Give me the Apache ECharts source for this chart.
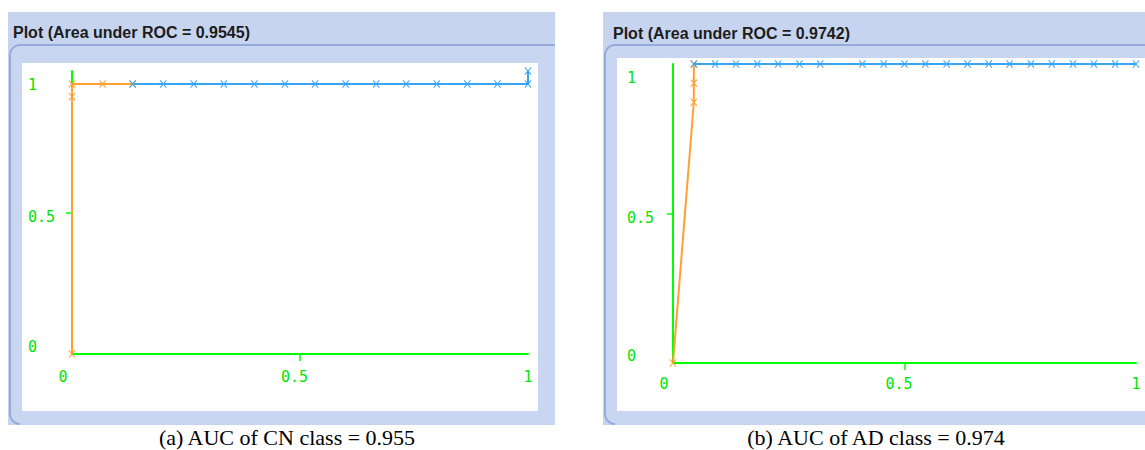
<!DOCTYPE html>
<html><head><meta charset="utf-8">
<script src="https://cdn.jsdelivr.net/npm/echarts@6.0.0/dist/echarts.min.js"></script>
<style>html,body{margin:0;padding:0;background:#fff}#c{width:1145px;height:450px}</style>
</head><body><div id="c"></div>
<script>
// ---- Data ----
const panelTitles = ['Plot (Area under ROC = 0.9545)', 'Plot (Area under ROC = 0.9742)'];
const captions = ['(a) AUC of CN class = 0.955', '(b) AUC of AD class = 0.974'];
const xTickLabels = [0, 0.5, 1];
const yTickLabels = [0, 0.5, 1];

// Panel (a) CN class
const cnOrangeFpr = [0, 0, 0, 0.067, 0.133];
const cnOrangeTpr = [0, 0.909, 0.954, 0.954, 0.954];
const cnBlueFpr = [0.133, 0.2, 0.267, 0.333, 0.4, 0.467, 0.533, 0.6, 0.667, 0.733, 0.8, 0.867, 0.933, 1, 1];
const cnBlueTpr = [0.954, 0.954, 0.954, 0.954, 0.954, 0.954, 0.954, 0.954, 0.954, 0.954, 0.954, 0.954, 0.954, 0.954, 1];

// Panel (b) AD class
const adOrangeFpr = [0, 0.045, 0.045, 0.045];
const adOrangeTpr = [0, 0.872, 0.936, 1];
const adBlueFpr = [0.045, 0.091, 0.136, 0.182, 0.227, 0.273, 0.318, 0.409, 0.455, 0.5, 0.545, 0.591, 0.636, 0.682, 0.727, 0.773, 0.818, 0.864, 0.909, 0.955, 1];
const adBlueTpr = [1, 1, 1, 1, 1, 1, 1, 1, 1, 1, 1, 1, 1, 1, 1, 1, 1, 1, 1, 1, 1];

// ---- Styling ----
const GREEN = '#00ff00';
const LABEL_GREEN = '#00e600';
const ORANGE = '#ffa030';
const BLUE = '#38a4f4';
const LAV = '#c6d4ef';
const MONO = '"DejaVu Sans Mono", "Liberation Mono", monospace';
const XMARK = 'path://M1,0 L5,4 L9,0 L10,1 L6,5 L10,9 L9,10 L5,6 L1,10 L0,9 L4,5 L0,1 Z';
const TITLE_FONT = '"Liberation Sans Narrow", "Liberation Sans", Arial, sans-serif';
const CAPTION_FONT = '"Liberation Serif", "Times New Roman", serif';

function zip(xs, ys) { return xs.map((x, i) => [x, ys[i]]); }

const lblBase = { fontFamily: MONO, fontSize: 15, color: LABEL_GREEN };

function xAxisCfg(grid, margin) {
  return {
    type: 'value', gridIndex: grid, min: 0, max: 1,
    axisLine: { show: true, onZero: false, lineStyle: { color: GREEN, width: 2 } },
    axisTick: { show: true, customValues: [0.5], length: 7, lineStyle: { color: GREEN, width: 1.5 } },
    splitLine: { show: false },
    axisLabel: {
      customValues: xTickLabels, margin: margin, hideOverlap: false,
      ...lblBase,
      formatter: v => v === 0 ? '{z|0}' : (v === 0.5 ? '{h|0.5}' : '{o|1}'),
      rich: {
        z: { ...lblBase, padding: [0, 18, 0, 0] },
        h: { ...lblBase, padding: [0, 11, 0, 0] },
        o: { ...lblBase }
      }
    }
  };
}
function yAxisCfg(grid, margin) {
  return {
    type: 'value', gridIndex: grid, min: 0, max: 1,
    axisLine: { show: true, onZero: false, lineStyle: { color: GREEN, width: 2 } },
    axisTick: { show: true, customValues: [0.5], length: 6, lineStyle: { color: GREEN, width: 1.5 } },
    splitLine: { show: false },
    axisLabel: {
      customValues: yTickLabels, margin: margin, align: 'left', hideOverlap: false,
      ...lblBase,
      formatter: v => v === 0 ? '{z|0}' : (v === 0.5 ? '{h|0.5}' : '{o|1}'),
      rich: {
        z: { ...lblBase, padding: [0, 0, 14, 0] },
        h: { ...lblBase, padding: [9, 0, 0, 0] },
        o: { ...lblBase, padding: [28, 0, 0, 0] }
      }
    }
  };
}
function lineSeries(color, data, xi) {
  return {
    type: 'line', xAxisIndex: xi, yAxisIndex: xi, data: data,
    symbol: XMARK, symbolSize: [7, 8], showAllSymbol: true,
    itemStyle: { color: color }, lineStyle: { color: color, width: 2 },
    animation: false, z: 3
  };
}

// rounded frame edge (top and left sides) as a polyline
function framePoints(fx, right, top, bottom, rad) {
  const pts = [[right, top]];
  for (let i = 0; i <= 6; i++) {
    const a = Math.PI / 2 * i / 6;
    pts.push([fx + rad - rad * Math.sin(a), top + rad - rad * Math.cos(a)]);
  }
  for (let i = 0; i <= 6; i++) {
    const a = Math.PI / 2 * i / 6;
    pts.push([fx + rad - rad * Math.cos(a), bottom - rad + rad * Math.sin(a)]);
  }
  return pts;
}

function panelGraphics(x, w, whiteTop) {
  const fx = x + 2;
  return [
    { type: 'rect', z: -100, shape: { x: x, y: 12, width: w, height: 413 }, style: { fill: LAV } },
    { type: 'rect', z: -99, shape: { x: fx, y: 45, width: w - 2, height: 379, r: [10, 0, 0, 10] },
      style: { fill: '#c9d6f1' } },
    { type: 'polyline', z: -98, shape: { points: framePoints(fx, x + w, 45, 424, 10) },
      style: { fill: null, stroke: '#94abdb', lineWidth: 2 } },
    { type: 'rect', z: -97, shape: { x: x + 14, y: whiteTop, width: w - 31, height: 411 - whiteTop }, style: { fill: '#ffffff' } }
  ];
}

const option = {
  backgroundColor: '#ffffff',
  animation: false,
  title: [
    { text: panelTitles[0], left: 8, top: 19, textStyle: { fontFamily: TITLE_FONT, fontWeight: 'bold', fontSize: 16, color: '#1c1c1c' } },
    { text: panelTitles[1], left: 608, top: 20, textStyle: { fontFamily: TITLE_FONT, fontWeight: 'bold', fontSize: 16, color: '#1c1c1c' } },
    { text: captions[0], left: 282, top: 421, textAlign: 'center', textStyle: { fontFamily: CAPTION_FONT, fontWeight: 'normal', fontSize: 22, color: '#000' } },
    { text: captions[1], left: 871, top: 421, textAlign: 'center', textStyle: { fontFamily: CAPTION_FONT, fontWeight: 'normal', fontSize: 22, color: '#000' } }
  ],
  graphic: [
    ...panelGraphics(8, 547, 63),
    ...panelGraphics(603, 560, 58)
  ],
  grid: [
    { left: 72, top: 71, width: 456, height: 283, containLabel: false },
    { left: 673, top: 64, width: 463, height: 299, containLabel: false }
  ],
  xAxis: [xAxisCfg(0, 15), xAxisCfg(1, 13)],
  yAxis: [yAxisCfg(0, 44), yAxisCfg(1, 46)],
  series: [
    lineSeries(ORANGE, zip(cnOrangeFpr, cnOrangeTpr), 0),
    lineSeries(BLUE, zip(cnBlueFpr, cnBlueTpr), 0),
    lineSeries(ORANGE, zip(adOrangeFpr, adOrangeTpr), 1),
    lineSeries(BLUE, zip(adBlueFpr, adBlueTpr), 1)
  ]
};

const chart = echarts.init(document.getElementById('c'), null, { renderer: 'svg' });
chart.setOption(option);
</script></body></html>
